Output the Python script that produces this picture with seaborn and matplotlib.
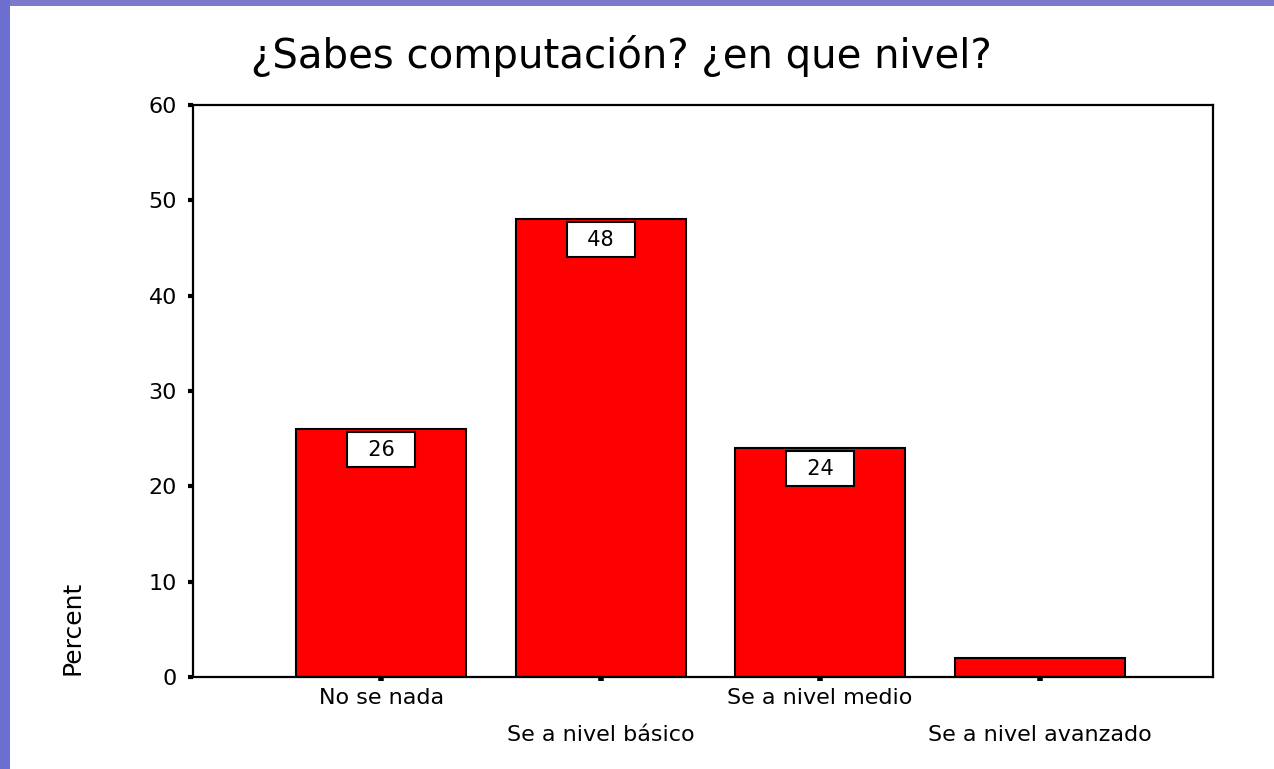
import matplotlib
matplotlib.use("Agg")
import matplotlib.pyplot as plt
from matplotlib.patches import Rectangle
import seaborn as sns

sns.set_theme(style='white')
plt.rcParams['font.family'] = ['DejaVu Sans']

# data
categories = ['No se nada', 'Se a nivel básico', 'Se a nivel medio', 'Se a nivel avanzado']
percent = [26, 48, 24, 2]
shown_labels = ['26', '48', '24', '']
yticks = [0, 10, 20, 30, 40, 50, 60]

fig = plt.figure(figsize=(12.74, 7.69), dpi=100, facecolor='white')

# slide frame (top band + left strip)
fig.patches.append(Rectangle((0, 1 - 6 / 769), 1, 6 / 769, transform=fig.transFigure,
                             facecolor='#7d7acb', edgecolor='none', zorder=0))
fig.patches.append(Rectangle((0, 0), 10 / 1274, 1, transform=fig.transFigure,
                             facecolor='#6c6fcf', edgecolor='none', zorder=0))

ax = fig.add_axes([0.1515, 0.1196, 0.8006, 0.7439])
sns.barplot(x=categories, y=percent, color='#ff0000', saturation=1, width=0.775,
            edgecolor='black', linewidth=1.5, ax=ax)

ax.set_xlim(-0.857, 3.79)
ax.set_ylim(0, 60)
ax.set_yticks(yticks, labels=[str(t) for t in yticks])

# alternate category labels on two rows
ax.set_xticks([0, 2], labels=[categories[0], categories[2]])
ax.set_xticks([1, 3], labels=[categories[1], categories[3]], minor=True)
ax.tick_params(axis='x', which='major', direction='out', length=3.2, width=4,
               pad=5, labelsize=16, colors='black', bottom=True)
ax.tick_params(axis='x', which='minor', direction='out', length=3.2, width=4,
               pad=31.5, labelsize=16, colors='black', bottom=True)
ax.tick_params(axis='y', direction='out', length=3.5, width=3, pad=8,
               labelsize=16, colors='black', left=True)

for side in ['left', 'right', 'top', 'bottom']:
    ax.spines[side].set_visible(True)
    ax.spines[side].set_color('black')
    ax.spines[side].set_linewidth(1.6)

for i, (v, lab) in enumerate(zip(percent, shown_labels)):
    if lab:
        ax.text(i, v - 1.1, f'  {lab}  ', ha='center', va='top', fontsize=15,
                color='black',
                bbox=dict(boxstyle='square,pad=0.36', facecolor='white',
                          edgecolor='black', linewidth=1.5))

ax.set_xlabel('')
ax.set_ylabel('Percent', fontsize=18, color='black')
ax.yaxis.set_label_coords(-0.106, 0.086)

fig.text(0.4875, 0.9116, '¿Sabes computación? ¿en que nivel?', ha='center',
         va='baseline', fontsize=29, color='black')

fig.savefig('out.png', dpi=100, facecolor=fig.get_facecolor())
